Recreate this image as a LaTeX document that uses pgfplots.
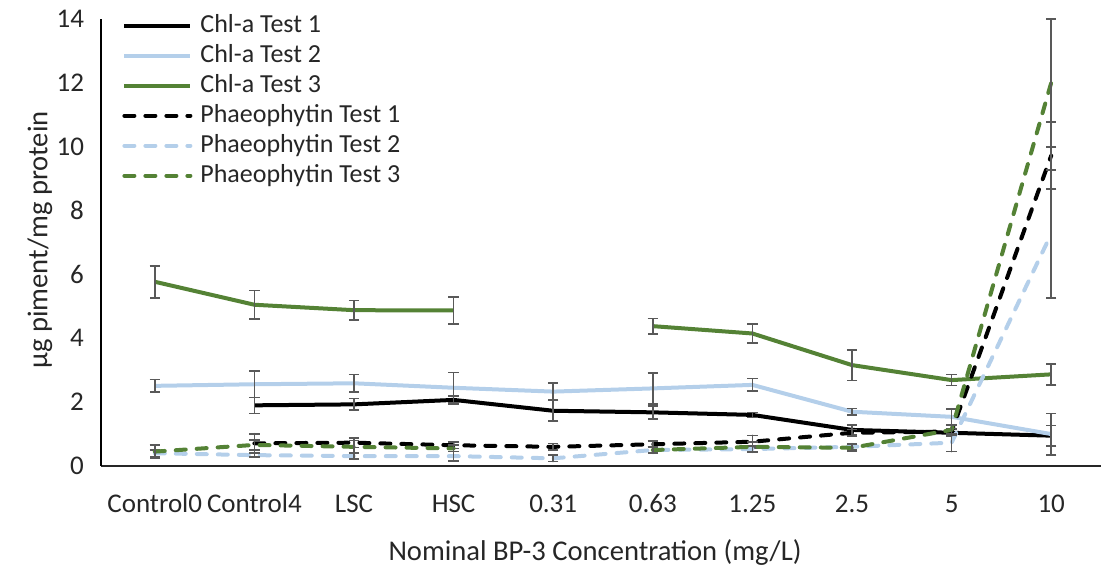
\documentclass[border=0pt]{standalone}
\usepackage{pgfplots}
\usepackage{pgfplotstable}
\usepackage{fontspec}
\setmainfont{Carlito}
\pgfplotsset{compat=1.18}
\definecolor{cblue}{HTML}{B4CFEA}
\definecolor{cgreen}{HTML}{548235}
\definecolor{errgray}{HTML}{595959}

\pgfplotstableread{
x y e
1 1.90 0.25
2 1.93 0.18
3 2.07 0.13
4 1.73 0.32
5 1.68 0.20
6 1.60 0.08
7 1.13 0.15
8 1.04 0.10
9 0.95 0.32
}\chlA
\pgfplotstableread{
x y e
0 2.51 0.20
1 2.56 0.42
2 2.59 0.27
3 2.45 0.48
4 2.33 0.27
5 2.43 0.48
6 2.54 0.20
7 1.70 0.10
8 1.54 0.24
9 1.00 0.65
}\chlB
\pgfplotstableread{
x y e
0 5.77 0.50
1 5.05 0.45
2 4.88 0.30
3 4.87 0.42
4 nan 0
5 4.38 0.24
6 4.15 0.30
7 3.16 0.48
8 2.69 0.17
9 2.87 0.33
}\chlC
\pgfplotstableread{
x y e
1 0.71 0.30
2 0.73 0.15
3 0.65 0.10
4 0.60 0.10
5 0.68 0.10
6 0.76 0.20
7 1.04 0.10
8 1.08 0.10
9 9.72 1.05
}\phA
\pgfplotstableread{
x y e
0 0.40 0.10
1 0.34 0.05
2 0.31 0.10
3 0.31 0.15
4 0.24 0.10
5 0.50 0.10
6 0.53 0.10
7 0.60 0.10
8 0.73 0.28
9 7.27 2.00
}\phB
\pgfplotstableread{
x y e
0 0.45 0.20
1 0.66 0.15
2 0.60 0.20
3 0.55 0.10
4 nan 0
5 0.50 0.10
6 0.60 0.15
7 0.57 0.10
8 1.13 0.15
9 12.00 2.00
}\phC

\begin{document}
\begin{tikzpicture}
\useasboundingbox (-50.5pt,-55pt) rectangle (500.5pt,233pt);
\begin{axis}[
  at={(0,0)}, anchor=south west,
  scale only axis,
  width=500pt, height=223.5pt,
  xmin=-0.54, xmax=9.5,
  ymin=0, ymax=14,
  ytick={0,2,...,14},
  xtick={0,...,9},
  xticklabels={Control0,Control4,LSC,HSC,0.31,0.63,1.25,2.5,5,10},
  axis x line*=bottom, axis y line*=left,
  axis line style={-},
  x axis line style={line width=1pt, draw=black!85},
  y axis line style={line width=0.6pt, draw=black},
  major tick length=0pt,
  /pgf/number format/assume math mode=true,
  tick label style={font=\fontsize{13.5}{15}\selectfont, text=black!85},
  xticklabel style={anchor=base, yshift=-23.5pt},
  yticklabel style={xshift=-5pt},
  xlabel={Nominal BP-3 Concentration (mg/L)},
  ylabel={µg piment/mg protein},
  label style={font=\fontsize{14.3}{16}\selectfont, text=black!85},
  xlabel style={at={(axis description cs:0.494,0)}, anchor=center, yshift=-43.5pt},
  ylabel style={at={(axis description cs:-0.061,0.506)}, anchor=center},
  unbounded coords=jump,
  clip=false,
  legend cell align=left,
  legend style={draw=none, fill=none, at={(axis description cs:0.015,1.027)}, anchor=north west,
    font=\fontsize{13}{15}\selectfont, row sep=0.5pt,
    nodes={inner sep=1pt, text height=9.5pt, text depth=3pt, text=black!85}},
  legend image code/.code={\draw[#1] (0pt,0pt) -- (33pt,0pt); \path (36pt,0pt);},
  every axis plot/.append style={line width=2pt, line join=round},
  error bars/y dir=both, error bars/y explicit,
  error bars/error bar style={draw=errgray, line width=0.8pt, solid},
  error bars/error mark options={rotate=90, mark size=2.6pt, draw=errgray, line width=0.8pt, solid},
]
\addplot[black, no markers] table[x=x, y=y, y error=e] {\chlA};
\addlegendentry{Chl-a Test 1}
\addplot[cblue, no markers] table[x=x, y=y, y error=e] {\chlB};
\addlegendentry{Chl-a Test 2}
\addplot[cgreen, no markers] table[x=x, y=y, y error=e] {\chlC};
\addlegendentry{Chl-a Test 3}
\addplot[black, no markers, line cap=round, dash pattern=on 5pt off 5.5pt] table[x=x, y=y, y error=e] {\phA};
\addlegendentry{Phaeophytin Test 1}
\addplot[cblue, no markers, line cap=round, dash pattern=on 5pt off 5.5pt] table[x=x, y=y, y error=e] {\phB};
\addlegendentry{Phaeophytin Test 2}
\addplot[cgreen, no markers, line cap=round, dash pattern=on 5pt off 5.5pt] table[x=x, y=y, y error=e] {\phC};
\addlegendentry{Phaeophytin Test 3}
\end{axis}
\end{tikzpicture}
\end{document}
